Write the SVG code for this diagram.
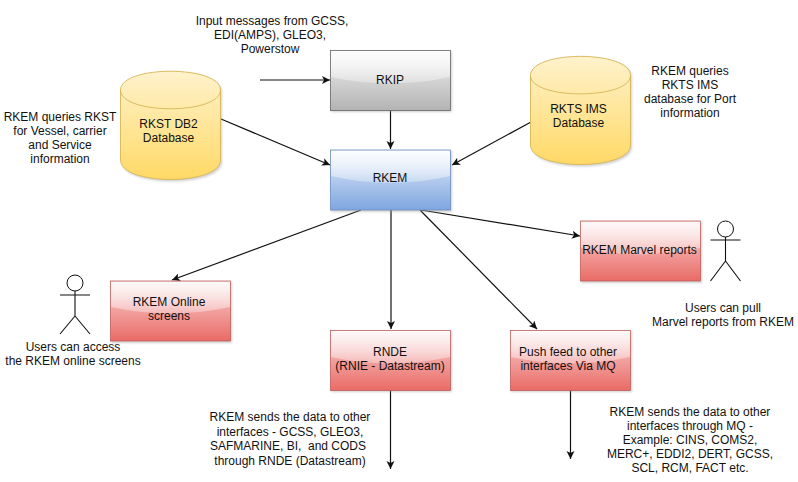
<svg xmlns="http://www.w3.org/2000/svg" width="798" height="482" viewBox="0 0 798 482">
<style>
text{font-family:"Liberation Sans",Arial,sans-serif;font-size:12px;fill:#111;text-anchor:middle;white-space:pre}
.c{fill:none;stroke:#111;stroke-width:1.2;marker-end:url(#a)}
.s{fill:none;stroke:#111;stroke-width:1.1}
.sh{fill:#999;opacity:.45;filter:url(#b)}
.g{fill:url(#gl)}
</style>
<defs>
<marker id="a" markerUnits="userSpaceOnUse" markerWidth="10" markerHeight="10" refX="8" refY="4" orient="auto"><path d="M0 0L8 4L0 8L2 4Z" fill="#111"/></marker>
<filter id="b" x="-10%" y="-10%" width="120%" height="120%"><feGaussianBlur stdDeviation="1"/></filter>
<linearGradient id="gr" x1="0" y1="0" x2="0" y2="1"><stop offset="0" stop-color="#f3f3f3"/><stop offset="1" stop-color="#b3b3b3"/></linearGradient>
<linearGradient id="bl" x1="0" y1="0" x2="0" y2="1"><stop offset="0" stop-color="#e6eefa"/><stop offset="1" stop-color="#7ea6e0"/></linearGradient>
<linearGradient id="rd" x1="0" y1="0" x2="0" y2="1"><stop offset="0" stop-color="#f8d5d5"/><stop offset="1" stop-color="#ea6b66"/></linearGradient>
<linearGradient id="ye" x1="0" y1="0" x2="0" y2="1"><stop offset="0" stop-color="#fff2cc"/><stop offset="1" stop-color="#ffd966"/></linearGradient>
<linearGradient id="gl" x1="0" y1="0" x2="0" y2="1"><stop offset="0" stop-color="#fff" stop-opacity=".85"/><stop offset="1" stop-color="#fff" stop-opacity=".3"/></linearGradient>
</defs>
<g id="connectors">
<path class="c" d="M260 80H330"/>
<path class="c" d="M390.500 110V149"/>
<path class="c" d="M221 119L330 165"/>
<path class="c" d="M531 122L452 165"/>
<path class="c" d="M361 210L172 280"/>
<path class="c" d="M391 210V329"/>
<path class="c" d="M420 210L537 329"/>
<path class="c" d="M421 210L580 236"/>
<path class="c" d="M390.500 390V469"/>
<path class="c" d="M570.500 390V459"/>
</g>
<g id="rkip"><rect class="sh" x="331" y="51" width="121" height="61"/><rect x="330.500" y="50.500" width="120" height="60" fill="url(#gr)" stroke="#666" stroke-width=".8"/><path class="g" d="M331 51H450V77Q390 90 331 77Z"/><text x="390" y="84">RKIP</text></g>
<g id="rkem"><rect class="sh" x="331" y="151" width="121" height="61"/><rect x="330.500" y="150" width="120" height="60" fill="url(#bl)" stroke="#6c8ebf" stroke-width=".8"/><path class="g" d="M331 151H450V176Q390 190 331 176Z"/><text x="390" y="182">RKEM</text></g>
<g id="rkem-online"><rect class="sh" x="111" y="282" width="121" height="61"/><rect x="110.500" y="281" width="120" height="60" fill="url(#rd)" stroke="#b85450" stroke-width=".7"/><path class="g" d="M111 282H230V307Q170 320 111 307Z"/><text x="169" y="306">RKEM Online</text><text x="169" y="320">screens</text></g>
<g id="rkem-marvel"><rect class="sh" x="581" y="222" width="121" height="61"/><rect x="580.500" y="221" width="120" height="60" fill="url(#rd)" stroke="#b85450" stroke-width=".7"/><path class="g" d="M581 222H700V248Q640 261 581 248Z"/><text x="639.500" y="254">RKEM Marvel reports</text></g>
<g id="rnde"><rect class="sh" x="331" y="331" width="121" height="61"/><rect x="330.500" y="330.500" width="120" height="60" fill="url(#rd)" stroke="#b85450" stroke-width=".7"/><path class="g" d="M331 331H450V357Q390 370 331 357Z"/><text x="390" y="356">RNDE</text><text x="390" y="370">(RNIE - Datastream)</text></g>
<g id="push-feed"><rect class="sh" x="511" y="331" width="121" height="61"/><rect x="510.500" y="330.500" width="120" height="60" fill="url(#rd)" stroke="#b85450" stroke-width=".7"/><path class="g" d="M511 331H630V357Q570 370 511 357Z"/><text x="568" y="356">Push feed to other</text><text x="568" y="370">interfaces Via MQ</text></g>
<g id="rkst-db2"><path class="sh" d="M122 92C122 66 222 66 222 92V162C222 188 122 188 122 162Z"/><path d="M120.500 90C120.500 65 220.500 65 220.500 90V160C220.500 186 120.500 186 120.500 160Z" fill="url(#ye)" stroke="#d6b656" stroke-width=".9"/><path d="M120.500 90C120.500 115 220.500 115 220.500 90" fill="none" stroke="#d6b656" stroke-width=".9"/><text x="168.500" y="128">RKST DB2</text><text x="168.500" y="142">Database</text></g>
<g id="rkts-ims"><path class="sh" d="M532 77C532 51 632 51 632 77V147C632 173 532 173 532 147Z"/><path d="M530.500 75.500C530.500 50 630.500 50 630.500 75.500V145C630.500 171 530.500 171 530.500 145Z" fill="url(#ye)" stroke="#d6b656" stroke-width=".9"/><path d="M530.500 75.500C530.500 100 630.500 100 630.500 75.500" fill="none" stroke="#d6b656" stroke-width=".9"/><text x="578.500" y="113">RKTS IMS</text><text x="578.500" y="127">Database</text></g>
<g id="actor-online"><circle cx="75" cy="283" r="8" fill="#fff" stroke="#111"/><path class="s" d="M75 291V316M60 295H90M75 316L60 334M75 316L90 334"/></g>
<g id="actor-marvel"><circle cx="725.500" cy="229" r="8" fill="#fff" stroke="#111"/><path class="s" d="M725.500 237V261M710.500 240H740.500M725.500 261L710.500 281M725.500 261L740.500 281"/></g>
<g id="labels">
<text x="272" y="25">Input messages from GCSS,</text><text x="270" y="39">EDI(AMPS), GLEO3,</text><text x="270" y="53">Powerstow</text>
<text x="60" y="121">RKEM queries RKST</text><text x="60" y="135">for Vessel, carrier</text><text x="60" y="149">and Service</text><text x="60" y="163">information</text>
<text x="690" y="75">RKEM queries</text><text x="690" y="89">RKTS IMS</text><text x="690" y="103">database for Port</text><text x="690" y="117">information</text>
<text x="73" y="351">Users can access</text><text x="73" y="365">the RKEM online screens</text>
<text x="723" y="312">Users can pull</text><text x="723" y="326">Marvel reports from RKEM</text>
<text x="290" y="421">RKEM sends the data to other</text><text x="290" y="436">interfaces - GCSS, GLEO3,</text><text x="288" y="450">SAFMARINE, BI,  and CODS</text><text x="290" y="465">through RNDE (Datastream)</text>
<text x="690" y="416">RKEM sends the data to other</text><text x="690" y="430">interfaces through MQ -</text><text x="690" y="444">Example: CINS, COMS2,</text><text x="690" y="458">MERC+, EDDI2, DERT, GCSS,</text><text x="690" y="472">SCL, RCM, FACT etc.</text>
</g>
</svg>
